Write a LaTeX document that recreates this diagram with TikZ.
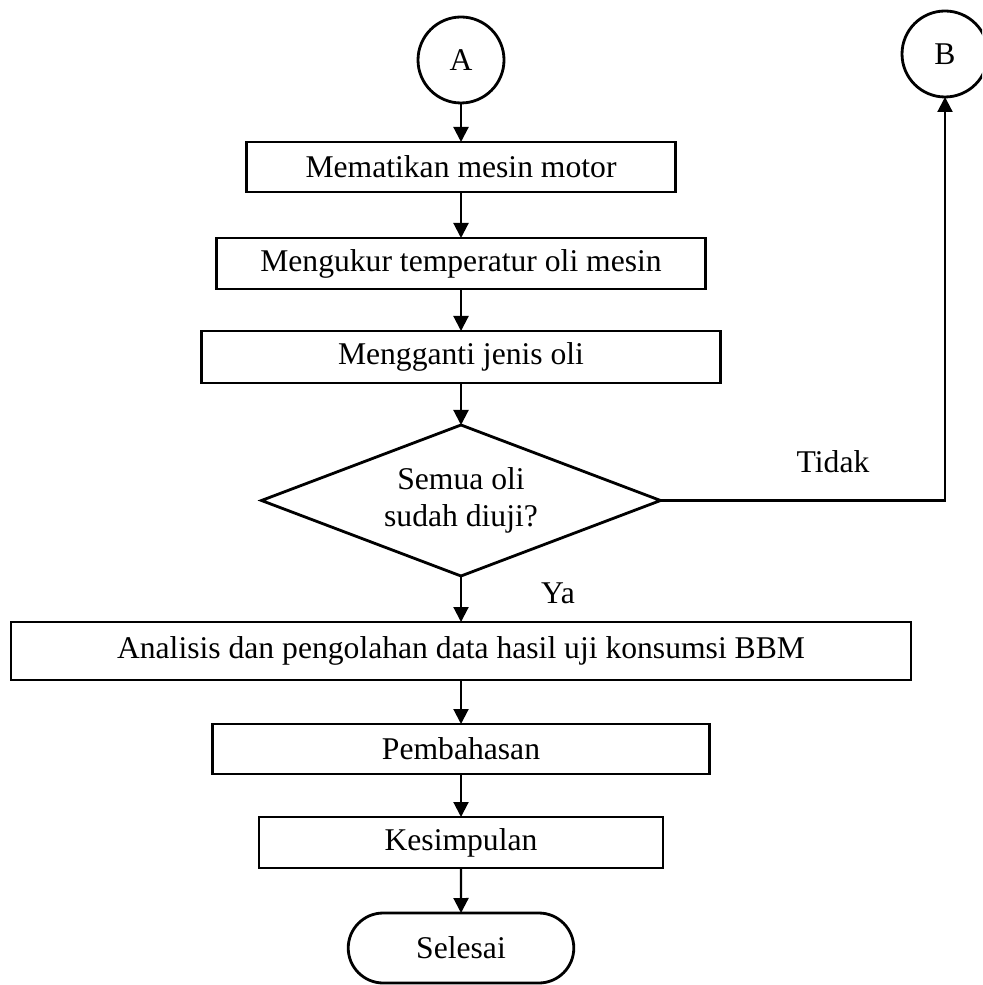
\documentclass[tikz,border=0pt]{standalone}
\usepackage{fontspec}
\setmainfont{Liberation Serif}
\usetikzlibrary{shapes,arrows.meta,positioning}

\begin{document}
\begin{tikzpicture}[
    font=\fontsize{9}{10.5}\selectfont,
    node distance=0.43cm,
    connector/.style={circle, draw, line width=0.8pt, minimum size=0.86cm, inner sep=0pt, outer sep=0pt},
    process/.style={rectangle, draw, line width=0.8pt, minimum height=0.5cm, inner sep=0pt, outer sep=0pt},
    decision/.style={diamond, draw, line width=0.8pt, minimum width=3.99cm, minimum height=1.51cm, shape aspect=2.6, inner sep=0pt, outer sep=0pt, align=center},
    terminal/.style={rounded rectangle, draw, line width=0.8pt, minimum width=2.49cm, minimum height=0.70cm, outer sep=0pt},
    arrow/.style={-{Triangle[length=1.5mm, width=1.5mm]}, line width=0.6pt}
]
\useasboundingbox (0,0) rectangle (9.82,-9.85);
\clip (0,0) rectangle (9.82,-9.85);

% Connectors
\node[connector] (conA) at (4.61,-0.60) {A};
\node[connector] (conB) at (9.45,-0.54) {B};

% Steps
\node[process, minimum width=4.29cm, below=0.39cm of conA] (matikan) {Mematikan mesin motor};
\node[process, minimum width=4.89cm, minimum height=0.51cm, below=0.46cm of matikan] (ukur) {Mengukur temperatur oli mesin};
\node[process, minimum width=5.19cm, minimum height=0.52cm, below=0.42cm of ukur] (ganti) {Mengganti jenis oli};

% Decision
\node[decision, below=0.42cm of ganti] (cek) {Semua oli\\sudah diuji?};

% Analysis
\node[process, minimum width=9.0cm, minimum height=0.58cm, below=0.46cm of cek] (analisis) {Analisis dan pengolahan data hasil uji konsumsi BBM};
\node[process, minimum width=4.97cm, below=0.44cm of analisis] (bahas) {Pembahasan};
\node[process, minimum width=4.04cm, minimum height=0.51cm, below=0.43cm of bahas] (simpul) {Kesimpulan};

% End
\node[terminal, below=0.45cm of simpul] (selesai) {Selesai};

% Labels
\node at (8.33,-4.62) {Tidak};
\node at (5.58,-5.93) {Ya};

% Arrows
\draw[arrow] (conA) -- (matikan);
\draw[arrow] (matikan) -- (ukur);
\draw[arrow] (ukur) -- (ganti);
\draw[arrow] (ganti) -- (cek);
\draw[arrow] (cek) -- (analisis);
\draw[arrow] (cek.east) -| (conB);
\draw[arrow] (analisis) -- (bahas);
\draw[arrow] (bahas) -- (simpul);
\draw[arrow] (simpul) -- (selesai);

\end{tikzpicture}
\end{document}
